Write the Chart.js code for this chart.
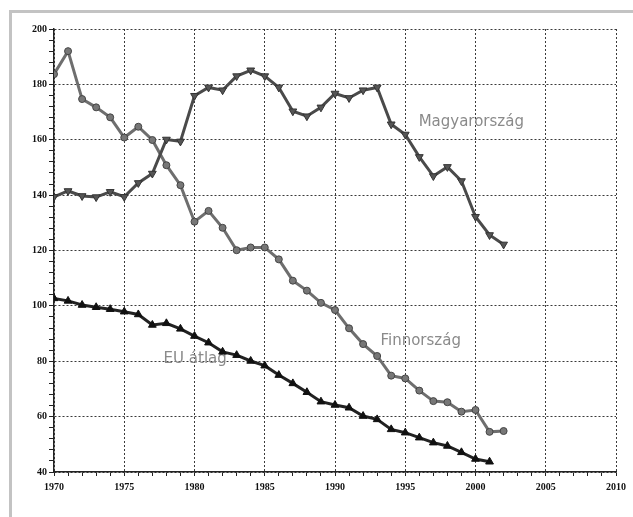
<!DOCTYPE html>
<html>
<head>
<meta charset="utf-8">
<script src="https://cdn.jsdelivr.net/npm/chart.js@4/dist/chart.umd.min.js"></script>
<style>
  html, body { margin: 0; padding: 0; background: #fff; }
  #wrap { position: relative; width: 633px; height: 517px; overflow: hidden; background: #fff; }
  #frame { position: absolute; left: 9px; top: 10px; width: 700px; height: 600px;
           border-top: 3px solid #c3c3c3; border-left: 3px solid #c3c3c3; }
  canvas { position: absolute; left: 0; top: 0; }
</style>
</head>
<body>
<div id="wrap">
  <div id="frame"></div>
  <canvas id="c" width="633" height="517"></canvas>
</div>
<script>
const years = [1970,1971,1972,1973,1974,1975,1976,1977,1978,1979,1980,1981,1982,1983,1984,1985,1986,1987,1988,1989,1990,1991,1992,1993,1994,1995,1996,1997,1998,1999,2000,2001,2002];

const magyarorszag = [139.4,141.5,139.7,139.3,141.2,139.4,144.4,147.8,160.1,159.4,175.9,178.9,177.9,183,185.1,183,178.9,170.3,168.5,171.7,176.7,175.1,177.9,178.9,165.6,161.9,153.8,146.9,150.2,145.1,132.2,125.6,122.2];

const finnorszag = [183.7,192.0,174.7,171.7,168.1,160.8,164.7,159.9,150.8,143.6,130.4,134.3,128.2,120.1,121.1,121.1,116.8,109.1,105.5,101.1,98.5,91.9,86.2,81.9,74.8,73.8,69.4,65.6,65.2,61.8,62.4,54.5,54.8];

const euAtlag = [102.7,101.8,100.3,99.5,98.8,97.9,96.9,93.1,93.7,91.7,89.1,86.7,83.4,82.2,80.1,78.4,75.0,72.0,68.8,65.4,64.2,63.2,60.2,59.0,55.4,54.2,52.4,50.6,49.4,47.1,44.7,43.7];

const seriesNames = ['Magyarország', 'Finnország', 'EU átlag'];
const labelYears = [1999.7, 1996.1, 1980.05];
const labelValues = [166.4, 87.4, 80.8];

const xMin = 1970, xMax = 2010, xMajor = 5, xMinor = 1;
const yMin = 40, yMax = 200, yMajor = 20, yMinor = 4;

const toPts = (vals) => vals.map((v, i) => ({x: years[i], y: v}));

const textLabels = {
  id: 'textLabels',
  beforeDatasetsDraw(chart) {
    const {ctx, scales} = chart;
    ctx.save();
    ctx.font = '15px "DejaVu Sans"';
    ctx.fillStyle = '#8a8a8a';
    ctx.textAlign = 'center';
    ctx.textBaseline = 'middle';
    for (let i = 0; i < seriesNames.length; i++) {
      ctx.fillText(seriesNames[i], scales.x.getPixelForValue(labelYears[i]), scales.y.getPixelForValue(labelValues[i]));
    }
    ctx.restore();
  }
};

new Chart(document.getElementById('c'), {
  type: 'line',
  data: {
    datasets: [
      {
        label: seriesNames[0], data: toPts(magyarorszag),
        borderColor: '#4a4a4a', borderWidth: 3,
        pointStyle: 'triangle', rotation: 180, pointRadius: 4.5,
        pointBackgroundColor: '#555', pointBorderColor: '#333', pointBorderWidth: 1
      },
      {
        label: seriesNames[1], data: toPts(finnorszag),
        borderColor: '#6e6e6e', borderWidth: 3,
        pointStyle: 'circle', pointRadius: 3.5,
        pointBackgroundColor: '#777', pointBorderColor: '#444', pointBorderWidth: 1
      },
      {
        label: seriesNames[2], data: toPts(euAtlag),
        borderColor: '#222', borderWidth: 3,
        pointStyle: 'triangle', pointRadius: 4.5,
        pointBackgroundColor: '#111', pointBorderColor: '#111', pointBorderWidth: 1
      }
    ]
  },
  options: {
    responsive: false,
    animation: false,
    events: [],
    layout: { padding: { left: 0, right: 17, top: 29, bottom: 0 } },
    plugins: { legend: { display: false }, tooltip: { enabled: false } },
    elements: { line: { tension: 0 } },
    scales: {
      x: {
        type: 'linear', min: xMin, max: xMax,
        afterBuildTicks(scale) {
          const t = [];
          for (let v = xMin; v <= xMax; v += xMinor) t.push({value: v});
          scale.ticks = t;
        },
        afterFit(scale) { scale.height = 45; },
        ticks: {
          autoSkip: false, maxRotation: 0, padding: 5,
          color: '#111', font: { family: '"Liberation Serif"', size: 10, weight: 'bold' },
          callback: (v) => (v % xMajor === 0 ? String(v) : '')
        },
        grid: {
          color: (ctx) => (ctx.tick && ctx.tick.value % xMajor === 0 ? '#3a3a3a' : 'rgba(0,0,0,0)'),
          tickColor: '#222', tickLength: 4, tickBorderDash: [], lineWidth: 1
        },
        border: { display: true, color: '#222', width: 1.5, dash: [2, 2] }
      },
      y: {
        type: 'linear', min: yMin, max: yMax,
        afterBuildTicks(scale) {
          const t = [];
          for (let v = yMin; v <= yMax; v += yMinor) t.push({value: v});
          scale.ticks = t;
        },
        afterFit(scale) { scale.width = 54; },
        ticks: {
          autoSkip: false, padding: 2,
          color: '#111', font: { family: '"Liberation Serif"', size: 10, weight: 'bold' },
          callback: (v) => (v % yMajor === 0 ? String(v) : '')
        },
        grid: {
          color: (ctx) => (ctx.tick && ctx.tick.value % yMajor === 0 ? '#3a3a3a' : 'rgba(0,0,0,0)'),
          tickColor: '#222', tickLength: 5, tickBorderDash: [], lineWidth: 1
        },
        border: { display: true, color: '#222', width: 1.5, dash: [2, 2] }
      }
    }
  },
  plugins: [textLabels]
});
</script>
</body>
</html>
